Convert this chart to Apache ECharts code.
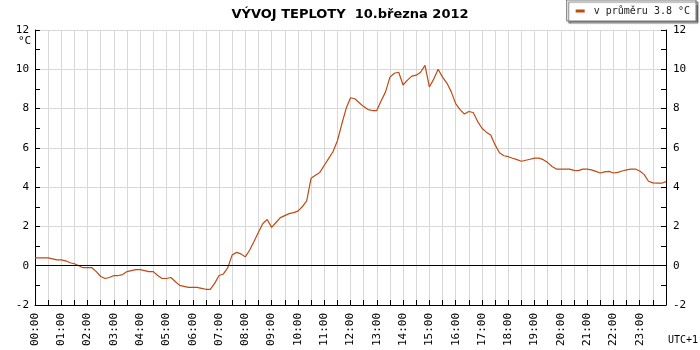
<!DOCTYPE html>
<html>
<head>
<meta charset="utf-8">
<script src="https://cdn.jsdelivr.net/npm/echarts@6/dist/echarts.min.js"></script>
<style>html,body{margin:0;padding:0;background:#fff}#c{width:700px;height:350px}</style>
</head>
<body>
<div id="c"></div>
<script>
var titleText = 'VÝVOJ TEPLOTY  10.března 2012';
var seriesName = 'v průměru 3.8 °C';
var yUnit = '°C';
var tzLabel = 'UTC+1';
var times = [
'00:00','00:10','00:20','00:30','00:40','00:50','01:00','01:10','01:20','01:30','01:40','01:50',
'02:00','02:10','02:20','02:30','02:40','02:50','03:00','03:10','03:20','03:30','03:40','03:50',
'04:00','04:10','04:20','04:30','04:40','04:50','05:00','05:10','05:20','05:30','05:40','05:50',
'06:00','06:10','06:20','06:30','06:40','06:50','07:00','07:10','07:20','07:30','07:40','07:50',
'08:00','08:10','08:20','08:30','08:40','08:50','09:00','09:10','09:20','09:30','09:40','09:50',
'10:00','10:10','10:20','10:30','10:40','10:50','11:00','11:10','11:20','11:30','11:40','11:50',
'12:00','12:10','12:20','12:30','12:40','12:50','13:00','13:10','13:20','13:30','13:40','13:50',
'14:00','14:10','14:20','14:30','14:40','14:50','15:00','15:10','15:20','15:30','15:40','15:50',
'16:00','16:10','16:20','16:30','16:40','16:50','17:00','17:10','17:20','17:30','17:40','17:50',
'18:00','18:10','18:20','18:30','18:40','18:50','19:00','19:10','19:20','19:30','19:40','19:50',
'20:00','20:10','20:20','20:30','20:40','20:50','21:00','21:10','21:20','21:30','21:40','21:50',
'22:00','22:10','22:20','22:30','22:40','22:50','23:00','23:10','23:20','23:30','23:40','23:50',
'24:00'];
var temps = [
0.4,0.4,0.4,0.4,0.35,0.3,0.3,0.25,0.15,0.1,0.0,-0.1,
-0.1,-0.1,-0.3,-0.55,-0.65,-0.6,-0.5,-0.5,-0.45,-0.3,-0.25,-0.2,
-0.2,-0.25,-0.3,-0.3,-0.5,-0.65,-0.65,-0.6,-0.8,-1.0,-1.05,-1.1,
-1.1,-1.1,-1.15,-1.2,-1.2,-0.9,-0.5,-0.42,-0.1,0.55,0.68,0.6,
0.45,0.8,1.25,1.7,2.15,2.35,1.95,2.2,2.45,2.55,2.65,2.7,
2.78,3.0,3.3,4.45,4.6,4.75,5.1,5.45,5.8,6.35,7.2,8.0,
8.55,8.5,8.3,8.1,7.95,7.9,7.9,8.4,8.85,9.6,9.8,9.85,
9.2,9.45,9.65,9.7,9.85,10.2,9.1,9.5,10.0,9.6,9.3,8.85,
8.25,7.95,7.72,7.85,7.8,7.35,7.0,6.8,6.65,6.15,5.75,5.6,
5.55,5.47,5.4,5.32,5.37,5.42,5.48,5.48,5.4,5.25,5.05,4.92,
4.92,4.92,4.92,4.85,4.84,4.92,4.92,4.88,4.8,4.72,4.78,4.8,
4.72,4.75,4.82,4.88,4.92,4.92,4.82,4.65,4.3,4.22,4.2,4.2,
4.28];
var yMin = -2, yMax = 12, yStep = 2;

var mono = '"DejaVu Sans Mono", monospace';
var chart = echarts.init(document.getElementById('c'), null, {renderer: 'canvas'});
function yAxisCfg(pos) {
  return {
    type: 'value', position: pos, min: yMin, max: yMax, interval: yStep,
    axisLine: {show: true, lineStyle: {color: '#000', width: 1}},
    axisTick: {show: true, inside: true, length: 5, lineStyle: {color: '#000'}},
    minorTick: {show: true, splitNumber: 2, length: 5, lineStyle: {color: '#000'}},
    axisLabel: {color: '#000', fontFamily: mono, fontSize: 11, margin: pos === 'left' ? 6 : 7},
    splitLine: {show: pos === 'left', lineStyle: {color: '#d8d8d8', width: 1}},
    minorSplitLine: {show: false}
  };
}
chart.setOption({
  animation: false,
  backgroundColor: '#fff',
  title: {text: titleText, left: 'center', top: 3,
    textStyle: {fontFamily: '"DejaVu Sans", sans-serif', fontWeight: 'bold', fontSize: 13, color: '#000'}},
  legend: {
    right: 4, top: 0, padding: [6, 6, 5, 9],
    backgroundColor: '#fff', borderColor: '#777', borderWidth: 1,
    shadowColor: 'rgba(0,0,0,0.5)', shadowOffsetX: 2, shadowOffsetY: 2, shadowBlur: 1,
    icon: 'rect', itemWidth: 9, itemHeight: 3, itemGap: 4,
    textStyle: {fontFamily: mono, fontSize: 10, color: '#222', padding: [0, 0, 0, 4]},
    data: [seriesName]
  },
  grid: {left: 35, right: 34, top: 30, bottom: 45, containLabel: false},
  xAxis: {
    type: 'category', data: times, boundaryGap: false,
    axisLine: {show: true, onZero: false, lineStyle: {color: '#000', width: 1}},
    axisTick: {show: true, inside: true, length: 5, interval: 2, lineStyle: {color: '#000'}},
    axisLabel: {interval: 5, rotate: 90, margin: 8, color: '#000', fontFamily: mono, fontSize: 11,
      formatter: function (v) { return v === '24:00' ? '' : v; }},
    splitLine: {show: true, interval: 2, lineStyle: {color: '#d8d8d8', width: 1}}
  },
  yAxis: [yAxisCfg('left'), yAxisCfg('right')],
  graphic: [
    {type: 'text', left: 18, top: 36, style: {text: yUnit, font: '11px ' + mono, fill: '#000'}},
    {type: 'text', right: 2, top: 335, style: {text: tzLabel, font: '10px ' + mono, fill: '#000'}}
  ],
  series: [{
    name: seriesName, type: 'line', data: temps, showSymbol: false, symbol: 'none',
    lineStyle: {color: '#bf4a14', width: 1.2}, itemStyle: {color: '#bf4a14'},
    markLine: {silent: true, symbol: 'none', label: {show: false},
      lineStyle: {color: '#000', width: 1, type: 'solid'}, data: [{yAxis: 0}]}
  }]
});
</script>
</body>
</html>
